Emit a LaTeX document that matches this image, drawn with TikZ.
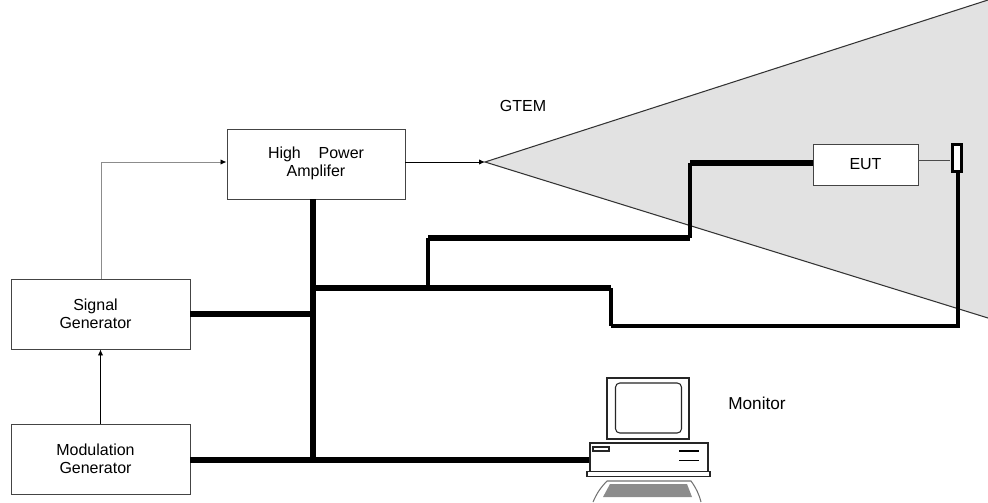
\documentclass[tikz,border=0pt]{standalone}
\usepackage{fontspec}
\setmainfont{Liberation Sans}
\usetikzlibrary{arrows.meta}
\definecolor{conegray}{HTML}{E2E2E2}
\definecolor{keygray}{HTML}{8C8C8C}
\definecolor{linegray}{HTML}{444444}
\begin{document}
\begin{tikzpicture}[
  box/.style={draw=linegray, line width=0.27pt, fill=white, inner sep=0pt},
  lbl/.style={inner sep=0pt, align=center, font=\fontsize{4.55}{5.1}\selectfont},
  feed/.style={line width=0.25pt, -{Latex[black,length=1.7pt,width=1.5pt]}},
  cable/.style={line width=#1, line join=miter},
  pcpart/.style={draw=black!85, line width=0.3pt, fill=white}]
\useasboundingbox (0,0) rectangle (9.88,5.02);
% GTEM cell
\fill[conegray] (4.85,3.40) -- (9.88,5.02) -- (9.88,1.84) -- cycle;
\coordinate (tip) at (4.85,3.40);
\coordinate (T1) at (9.88,5.02);
\coordinate (T2) at (9.88,1.84);
\draw[line width=0.3pt, black!80] (T1) -- (tip) -- (T2);
\node[lbl] (gtem) at (5.23,3.96) {GTEM};
% blocks
\node[box, minimum width=1.78cm, minimum height=0.70cm] (amp) at (3.16,3.38) {};
\node[lbl] (amptxt) at (3.16,3.39) {High \ \ \ Power\\Amplifer};
\node[box, minimum width=1.79cm, minimum height=0.70cm] (sig) at (1.005,1.88) {};
\node[lbl, xshift=-0.05cm] (sigtxt) at (sig) {Signal\\Generator};
\node[box, minimum width=1.79cm, minimum height=0.70cm] (mod) at (1.005,0.43) {};
\node[lbl, xshift=-0.05cm] (modtxt) at (mod) {Modulation\\Generator};
\node[box, minimum width=1.05cm, minimum height=0.41cm] (eut) at (8.655,3.375) {};
\node[lbl] (euttxt) at (eut) {EUT};
\node[draw, line width=0.85pt, fill=white, minimum width=0.09cm, minimum height=0.27cm, inner sep=0pt] (probe) at (9.57,3.44) {};
\node[lbl, font=\fontsize{4.9}{5.1}\selectfont] (mon) at (7.57,0.99) {Monitor};
% thin links
\coordinate (s1) at (1.01,3.40);
\coordinate (s2) at (9.50,3.42);
\draw[feed, black!45] (sig.north -| s1) -- (s1) -- (amp.west |- s1);
\draw[feed] (mod.north) -- (sig.south);
\draw[feed] (amp.east |- tip) -- (tip);
\draw[line width=0.25pt, black!70] (eut.east |- s2) -- (s2);
% computer
\node[pcpart, minimum width=0.82cm, minimum height=0.61cm, inner sep=0pt] (disp) at (6.48,0.935) {};
\node[draw=black!85, line width=0.3pt, rounded corners=1.2pt, minimum width=0.66cm, minimum height=0.50cm, inner sep=0pt] (scr) at (6.485,0.94) {};
\node[pcpart, minimum width=1.18cm, minimum height=0.29cm, inner sep=0pt] (unit) at (6.49,0.445) {};
\node[pcpart, minimum width=1.23cm, minimum height=0.045cm, inner sep=0pt] (foot) at (6.485,0.28) {};
\node[pcpart, minimum width=0.16cm, minimum height=0.04cm, inner sep=0pt] (slot) at (6.01,0.53) {};
\draw[line width=0.3pt] (6.79,0.51) -- (6.99,0.51);
\draw[line width=0.3pt] (6.79,0.415) -- (6.99,0.415);
\draw[line width=0.3pt, black!55] (5.93,0) to[bend left=10] (6.07,0.21) -- (6.91,0.21) to[bend left=10] (7.01,0);
\fill[keygray] (6.03,0.05) -- (6.10,0.18) -- (6.87,0.18) -- (6.92,0.05) -- cycle;
% heavy cables
\coordinate (bus) at (3.13,0.42);
\coordinate (j1) at (3.13,2.14);
\coordinate (j2) at (4.28,2.14);
\coordinate (j3) at (6.11,2.14);
\coordinate (c1) at (4.28,2.64);
\coordinate (c2) at (6.90,2.64);
\coordinate (c3) at (6.90,3.39);
\coordinate (d1) at (6.11,1.76);
\coordinate (d2) at (9.58,1.76);
\draw[cable=1.75pt] (bus |- amp.south) -- (bus);
\draw[cable=1.5pt] (sig.east) -- (bus |- sig.east);
\draw[cable=1.5pt] (mod.east |- bus) -- (unit.west |- bus);
\draw[cable=1.5pt] (j1) -- (j3);
\draw[cable=1.1pt] (j2) -- (c1);
\draw[cable=1.5pt] (c1) -- (c2);
\draw[cable=1.4pt] (c2) -- (c3);
\draw[cable=1.75pt] (c3) -- (eut.west |- c3);
\draw[cable=1.1pt] (j3) -- (d1);
\draw[cable=1pt] (d1) -- (d2) -- (probe.south -| d2);
\end{tikzpicture}
\end{document}
